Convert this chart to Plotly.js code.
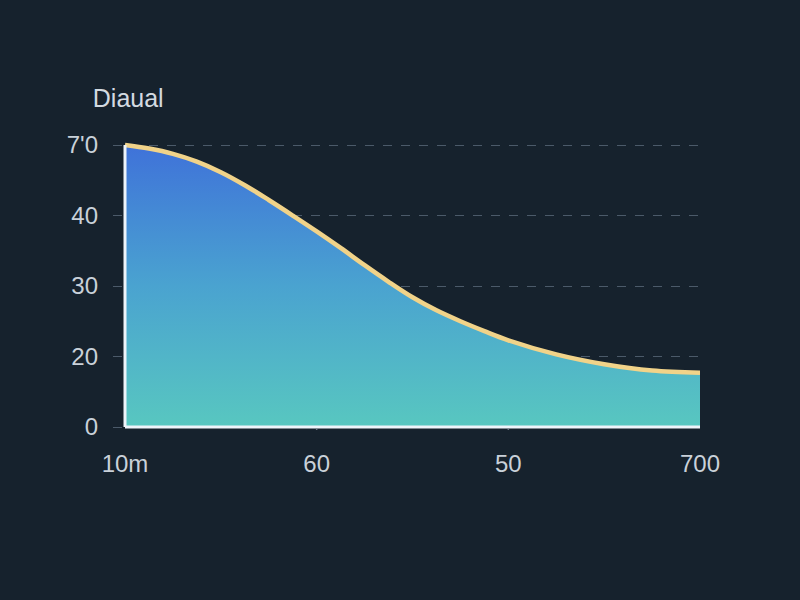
<!DOCTYPE html>
<html>
<head>
<meta charset="utf-8">
<script src="https://cdn.plot.ly/plotly-3.0.1.min.js"></script>
<style>html,body{margin:0;padding:0;background:#16222d;}#chart{width:800px;height:600px;}</style>
</head>
<body>
<div id="chart"></div>
<script>
// Data (y in tick-index units)
const xPositions = [0, 0.125, 0.25, 0.375, 0.5, 0.625, 0.75, 0.875, 1.0, 1.125, 1.25, 1.375, 1.5, 1.625, 1.75, 1.875, 2.0, 2.25, 2.5, 2.75, 3.0];
const yValues    = [4.00, 3.95, 3.875, 3.765, 3.615, 3.43, 3.22, 3.00, 2.775, 2.54, 2.295, 2.06, 1.84, 1.655, 1.50, 1.36, 1.23, 1.03, 0.89, 0.80, 0.77];
const xTickVals  = [0, 1, 2, 3];
const xTickText  = ['10m', '60', '50', '700'];
const yTickVals  = [0, 1, 2, 3, 4];
const yTickText  = ['0', '20', '30', '40', "7'0"];
const chartTitle = 'Diaual';

const font = {family: 'Liberation Sans, Arial, sans-serif', color: '#c9d1d9', size: 24};

const trace = {
  x: xPositions, y: yValues, type: 'scatter', mode: 'lines',
  line: {color: '#f1d389', width: 4.5, shape: 'spline', smoothing: 1},
  fill: 'tozeroy',
  fillgradient: {type: 'vertical', colorscale: [[0, '#58c7c0'], [0.5, '#4aa3d0'], [1, '#3f72d9']]},
  cliponaxis: false,
  hoverinfo: 'skip'
};

const layout = {
  width: 800, height: 600,
  paper_bgcolor: '#16222d', plot_bgcolor: '#16222d',
  margin: {l: 113, r: 100, t: 135, b: 170},
  showlegend: false,
  title: {text: chartTitle, xref: 'container', yref: 'container', x: 0.116, xanchor: 'left', y: 0.837, yanchor: 'middle',
          font: {family: font.family, size: 25, color: '#d3dae1'}},
  xaxis: {range: [-0.0626, 3], tickvals: xTickVals, ticktext: xTickText, showgrid: false, zeroline: false,
          showline: false, ticks: '', tickfont: font, ticklabelstandoff: 17, fixedrange: true},
  yaxis: {range: [-0.0426, 4.142], tickvals: yTickVals, ticktext: yTickText, showgrid: true,
          gridcolor: 'rgba(140,160,180,0.45)', griddash: 'dash', gridwidth: 1, zeroline: false,
          showline: false, ticks: '', tickfont: font, ticklabelstandoff: 14, fixedrange: true},
  shapes: [
    {type: 'line', xref: 'x', yref: 'y', x0: 0, x1: 3, y0: 0, y1: 0, line: {color: '#eef4fa', width: 3}, layer: 'above'},
    {type: 'line', xref: 'x', yref: 'y', x0: 0, x1: 0, y0: 0, y1: 4, line: {color: '#eef4fa', width: 3}, layer: 'above'},
    {type: 'line', xref: 'x', yref: 'y', x0: 1, x1: 1, y0: -0.03, y1: -0.13, line: {color: '#7a8590', width: 1.5}},
    {type: 'line', xref: 'x', yref: 'y', x0: 2, x1: 2, y0: -0.03, y1: -0.13, line: {color: '#7a8590', width: 1.5}}
  ]
};

Plotly.newPlot('chart', [trace], layout, {displayModeBar: false, staticPlot: true});
</script>
</body>
</html>
